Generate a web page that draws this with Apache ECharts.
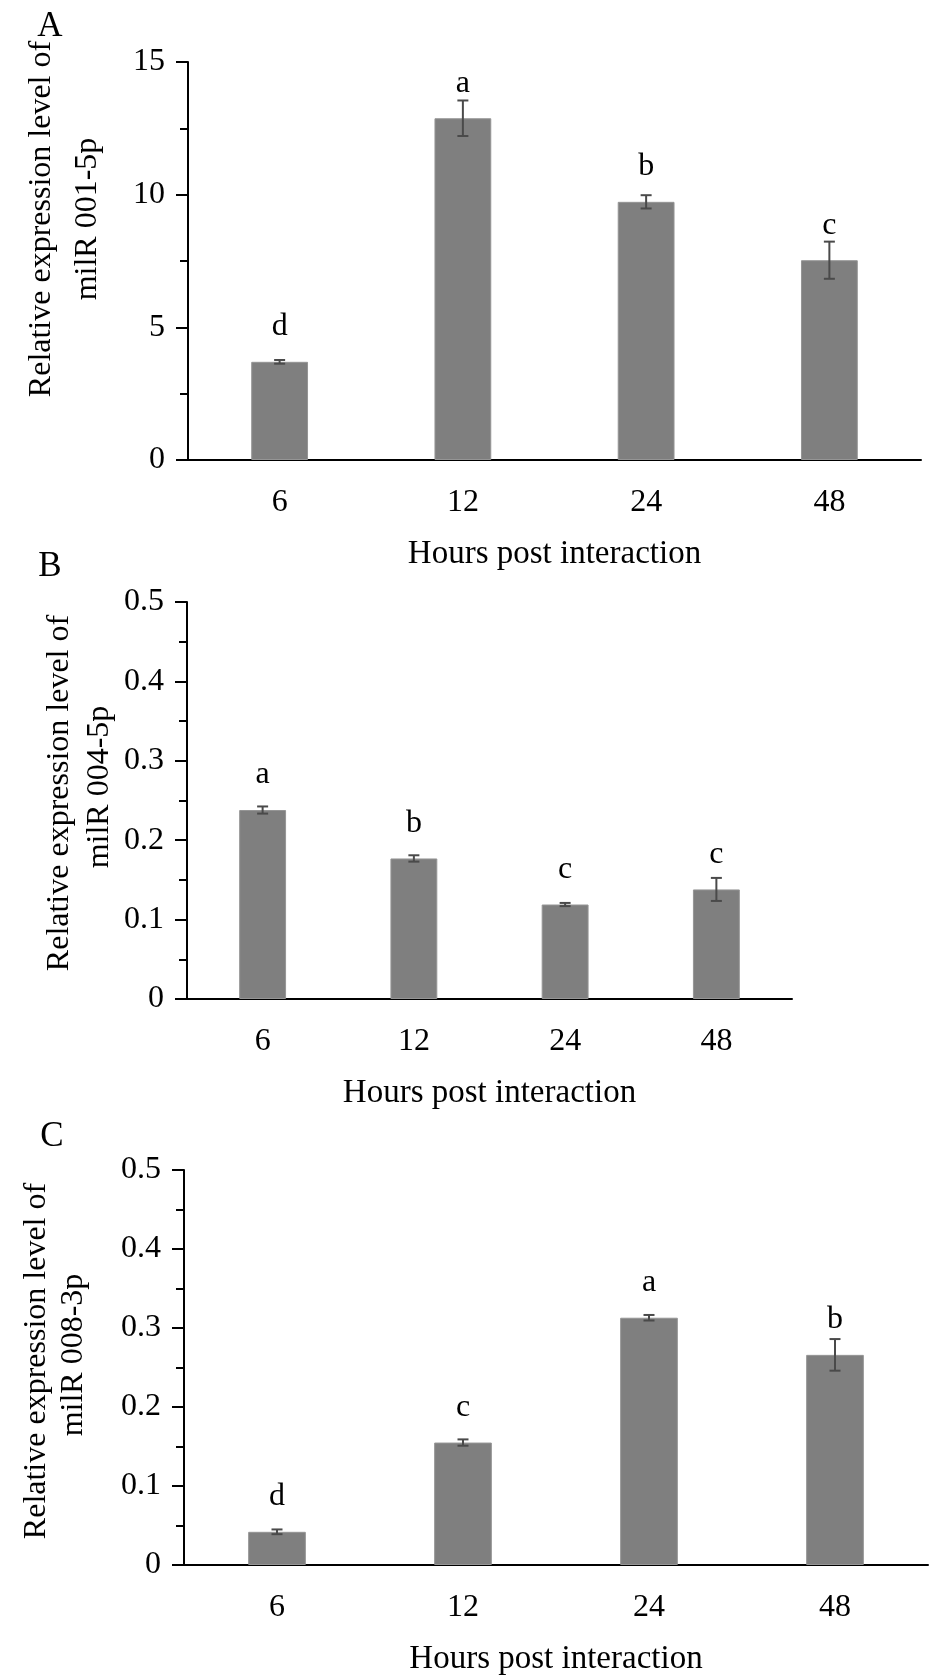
<!DOCTYPE html>
<html><head><meta charset="utf-8">
<script src="https://cdn.jsdelivr.net/npm/echarts@6/dist/echarts.min.js"></script>
<style>html,body{margin:0;padding:0;background:#fff}#c{width:933px;height:1680px}</style>
</head><body><div id="c"></div>
<script>
// ---- data ----
const categories = ['6', '12', '24', '48'];
const valuesA = [3.70, 12.88, 9.73, 7.53];
const errA = [0.07, 0.67, 0.25, 0.70];
const lettersA = ['d', 'a', 'b', 'c'];
const valuesB = [0.238, 0.177, 0.119, 0.138];
const errB = [0.0045, 0.004, 0.002, 0.0145];
const lettersB = ['a', 'b', 'c', 'c'];
const valuesC = [0.042, 0.155, 0.313, 0.266];
const errC = [0.003, 0.004, 0.0035, 0.02];
const lettersC = ['d', 'c', 'a', 'b'];
const yTitlesA = ['Relative expression level of', 'milR 001-5p'];
const yTitlesB = ['Relative expression level of', 'milR 004-5p'];
const yTitlesC = ['Relative expression level of', 'milR 008-3p'];
const xTitle = 'Hours post interaction';
const panelLetters = ['A', 'B', 'C'];

// ---- layout / style ----
const FONT = '"Liberation Serif","Times New Roman",serif';
const panels = [
  {vals: valuesA, errs: errA, letters: lettersA, max: 15, interval: 5,
   grid: {left: 188, top: 62, width: 733, height: 398},
   yt: [[42, 219], [88, 219]], pl: [50, 27]},
  {vals: valuesB, errs: errB, letters: lettersB, max: 0.5, interval: 0.1,
   grid: {left: 187, top: 602, width: 605, height: 397},
   yt: [[60, 793], [100, 787]], pl: [50, 567]},
  {vals: valuesC, errs: errC, letters: lettersC, max: 0.5, interval: 0.1,
   grid: {left: 184, top: 1170, width: 744, height: 395},
   yt: [[37, 1361], [74, 1355]], pl: [52, 1137]}
];
const yTitles = [yTitlesA, yTitlesB, yTitlesC];

function errRender(params, api) {
  const i = api.value(0), v = api.value(1), e = api.value(2);
  const top = api.coord([i, v + e]);
  const bot = api.coord([i, v - e]);
  const hw = 5.5;
  const style = {stroke: '#4a4a4a', lineWidth: 2};
  return {type: 'group', children: [
    {type: 'line', shape: {x1: top[0], y1: top[1], x2: bot[0], y2: bot[1]}, style},
    {type: 'line', shape: {x1: top[0] - hw, y1: top[1], x2: top[0] + hw, y2: top[1]}, style},
    {type: 'line', shape: {x1: bot[0] - hw, y1: bot[1], x2: bot[0] + hw, y2: bot[1]}, style}
  ]};
}

const grid = [], xAxis = [], yAxis = [], series = [], graphic = [];
panels.forEach((p, k) => {
  grid.push(Object.assign({containLabel: false}, p.grid));
  xAxis.push({
    type: 'category', gridIndex: k, data: categories,
    axisLine: {lineStyle: {color: '#000', width: 2}},
    axisTick: {inside: true, length: 13, lineStyle: {color: '#000', width: 2}},
    axisLabel: {color: '#000', fontSize: 32, fontFamily: FONT, margin: 27},
    name: xTitle, nameLocation: 'middle', nameGap: 78,
    nameTextStyle: {color: '#000', fontSize: 33, fontFamily: FONT}
  });
  yAxis.push({
    type: 'value', gridIndex: k, min: 0, max: p.max, interval: p.interval,
    axisLine: {show: true, lineStyle: {color: '#000', width: 2}},
    axisTick: {show: true, length: 12, lineStyle: {color: '#000', width: 2}},
    minorTick: {show: true, splitNumber: 2, length: 8, lineStyle: {color: '#000', width: 2}},
    splitLine: {show: false},
    axisLabel: {color: '#000', fontSize: 32, fontFamily: FONT, margin: 23}
  });
  series.push({
    type: 'bar', xAxisIndex: k, yAxisIndex: k, data: p.vals, barWidth: '31%',
    itemStyle: {color: '#7f7f7f', borderColor: '#959595', borderWidth: 1},
    label: {show: true, position: 'top', distance: 19, color: '#000',
      fontSize: 32, fontFamily: FONT,
      formatter: (prm) => p.letters[prm.dataIndex]},
    silent: true
  });
  series.push({
    type: 'custom', xAxisIndex: k, yAxisIndex: k, z: 5,
    data: p.vals.map((v, i) => [i, v, p.errs[i]]),
    encode: {x: 0, y: 1},
    renderItem: errRender, silent: true
  });
  yTitles[k].forEach((t, j) => {
    graphic.push({
      type: 'text', x: p.yt[j][0], y: p.yt[j][1], rotation: Math.PI / 2,
      style: {text: t, fill: '#000', font: '32px ' + FONT,
        align: 'center', verticalAlign: 'middle',
        textAlign: 'center', textVerticalAlign: 'middle'}
    });
  });
  graphic.push({
    type: 'text', x: p.pl[0], y: p.pl[1],
    style: {text: panelLetters[k], fill: '#000', font: '35px ' + FONT,
      align: 'center', verticalAlign: 'middle',
      textAlign: 'center', textVerticalAlign: 'middle'}
  });
});

const chart = echarts.init(document.getElementById('c'), null, {renderer: 'canvas'});
chart.setOption({
  animation: false, backgroundColor: '#fff',
  grid, xAxis, yAxis, series, graphic
});
</script></body></html>
